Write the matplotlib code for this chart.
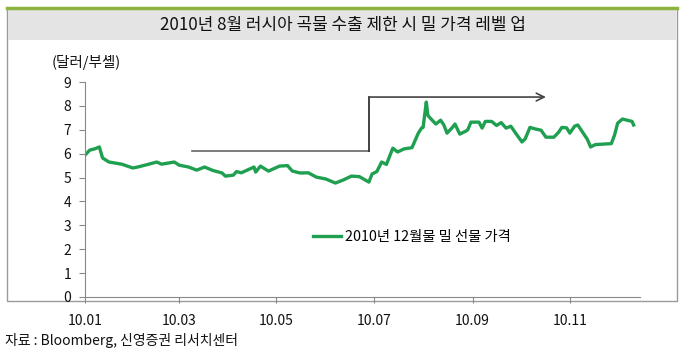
import matplotlib
matplotlib.use("Agg")
import matplotlib.pyplot as plt
import pandas as pd
from matplotlib.patches import Rectangle
from matplotlib.lines import Line2D

plt.rcParams['font.family'] = ['Noto Sans CJK KR', 'DejaVu Sans']

dates = ["2010-01-01", "2010-01-04", "2010-01-07", "2010-01-10", "2010-01-12", "2010-01-16",
         "2010-01-24", "2010-01-31", "2010-02-03", "2010-02-10", "2010-02-15", "2010-02-18",
         "2010-02-26", "2010-03-01", "2010-03-07", "2010-03-12", "2010-03-17", "2010-03-22",
         "2010-03-28", "2010-03-30", "2010-04-04", "2010-04-06", "2010-04-09", "2010-04-17",
         "2010-04-18", "2010-04-21", "2010-04-26", "2010-05-03", "2010-05-08", "2010-05-11",
         "2010-05-16", "2010-05-21", "2010-05-26", "2010-06-01", "2010-06-07", "2010-06-12",
         "2010-06-17", "2010-06-22", "2010-06-28", "2010-06-30", "2010-07-03", "2010-07-06",
         "2010-07-09", "2010-07-13", "2010-07-16", "2010-07-20", "2010-07-25", "2010-07-29",
         "2010-07-31", "2010-08-01", "2010-08-03", "2010-08-04", "2010-08-06", "2010-08-09",
         "2010-08-12", "2010-08-14", "2010-08-16", "2010-08-19", "2010-08-21", "2010-08-24",
         "2010-08-28", "2010-08-29", "2010-08-31", "2010-09-05", "2010-09-07", "2010-09-09",
         "2010-09-13", "2010-09-16", "2010-09-19", "2010-09-22", "2010-09-25", "2010-09-28",
         "2010-10-02", "2010-10-04", "2010-10-07", "2010-10-10", "2010-10-14", "2010-10-17",
         "2010-10-22", "2010-10-25", "2010-10-27", "2010-10-30", "2010-11-01", "2010-11-04",
         "2010-11-06", "2010-11-09", "2010-11-12", "2010-11-14", "2010-11-17", "2010-11-27",
         "2010-11-29", "2010-12-01", "2010-12-04", "2010-12-07", "2010-12-10", "2010-12-11"]
prices = [5.94, 6.15, 6.2, 6.28, 5.82, 5.65,
          5.56, 5.4, 5.44, 5.56, 5.65, 5.56,
          5.65, 5.52, 5.44, 5.31, 5.44, 5.3,
          5.19, 5.06, 5.1, 5.25, 5.2, 5.44,
          5.23, 5.48, 5.27, 5.48, 5.5, 5.27,
          5.19, 5.2, 5.02, 4.94, 4.77, 4.9,
          5.06, 5.04, 4.81, 5.15, 5.25, 5.65,
          5.55, 6.23, 6.07, 6.2, 6.25, 6.86,
          7.07, 7.1, 8.16, 7.6, 7.45, 7.24,
          7.4, 7.2, 6.86, 7.07, 7.24, 6.82,
          6.95, 7.0, 7.32, 7.32, 7.07, 7.35,
          7.35, 7.18, 7.3, 7.07, 7.15, 6.86,
          6.49, 6.62, 7.1, 7.04, 6.98, 6.69,
          6.69, 6.9, 7.1, 7.08, 6.86, 7.15,
          7.2, 6.9, 6.6, 6.28, 6.38, 6.42,
          6.77, 7.28, 7.45, 7.4, 7.35, 7.2]

# level-up arrow: before / after the Russian export ban
arrow_from = "2010-03-09"
ban_date = "2010-06-28"
arrow_to = "2010-10-17"
level_before = 6.13
level_after = 8.37

tick_dates = ["2010-01-01", "2010-03-01", "2010-05-01", "2010-07-01", "2010-09-01", "2010-11-01"]
tick_labels = ["10.01", "10.03", "10.05", "10.07", "10.09", "10.11"]

title = "2010년 8월 러시아 곡물 수출 제한 시 밀 가격 레벨 업"
series_name = "2010년 12월물 밀 선물 가격"
unit = "(달러/부셸)"
source = "자료 : Bloomberg, 신영증권 리서치센터"

W, H = 686, 355
fig = plt.figure(figsize=(W / 100, H / 100), dpi=100)

# outer frame and title band (behind the axes)
fig.patches.append(Rectangle((7 / W, 1 - 301 / H), 670 / W, 293 / H, transform=fig.transFigure,
                             facecolor='white', edgecolor='#9a9a9a', lw=1.0, zorder=-10))
fig.patches.append(Rectangle((8 / W, 1 - 40 / H), 668 / W, 31 / H, transform=fig.transFigure,
                             facecolor='#e4e4e4', edgecolor='none', zorder=-9))
fig.lines.append(Line2D([7 / W, 677 / W], [1 - 8 / H, 1 - 8 / H], transform=fig.transFigure,
                        color='#8db43e', lw=2.5, zorder=-8))
fig.text(343 / W, 1 - 25 / H, title, ha='center', va='center', fontsize=12.2, color='#111111')

ax = fig.add_axes([85 / W, 1 - 297 / H, 555 / W, 215 / H])
ax.patch.set_alpha(0)
x = pd.to_datetime(dates)
ax.plot(x, prices, color='#1f9f50', lw=2.4, label=series_name)

ax.plot(pd.to_datetime([arrow_from, ban_date]), [level_before, level_before], color='#666666', lw=1.2)
ax.plot(pd.to_datetime([ban_date, ban_date]), [level_before, level_after], color='#222222', lw=1.2)
ax.annotate("", xy=(pd.to_datetime(arrow_to), level_after),
            xytext=(pd.to_datetime(ban_date), level_after),
            arrowprops=dict(arrowstyle='->', color='#444444', lw=1.2, mutation_scale=14,
                            shrinkA=0, shrinkB=0))

ax.set_xlim(pd.Timestamp("2010-01-01"), pd.Timestamp("2010-12-15"))
ax.set_ylim(0, 9)
ax.set_yticks(range(0, 10))
ax.set_xticks(pd.to_datetime(tick_dates))
ax.set_xticklabels(tick_labels)
ax.spines['top'].set_visible(False)
ax.spines['right'].set_visible(False)
for s in ['left', 'bottom']:
    ax.spines[s].set_color('#888888')
ax.tick_params(axis='y', length=4, color='#888888', labelsize=10, pad=6, labelcolor='#111111')
ax.tick_params(axis='x', length=4, color='#888888', labelsize=10, pad=8, labelcolor='#111111')

ax.legend(loc='center left', bbox_to_anchor=(0.41, 0.28), frameon=False, fontsize=10.3,
          handlelength=2.0, handletextpad=0.3, borderpad=0, borderaxespad=0)

fig.text(86 / W, 1 - 62 / H, unit, ha='center', va='center', fontsize=10.5, color='#111111')
fig.text(5 / W, 1 - 341 / H, source, ha='left', va='center', fontsize=10, color='#111111')

fig.savefig("out.png", dpi=100)
